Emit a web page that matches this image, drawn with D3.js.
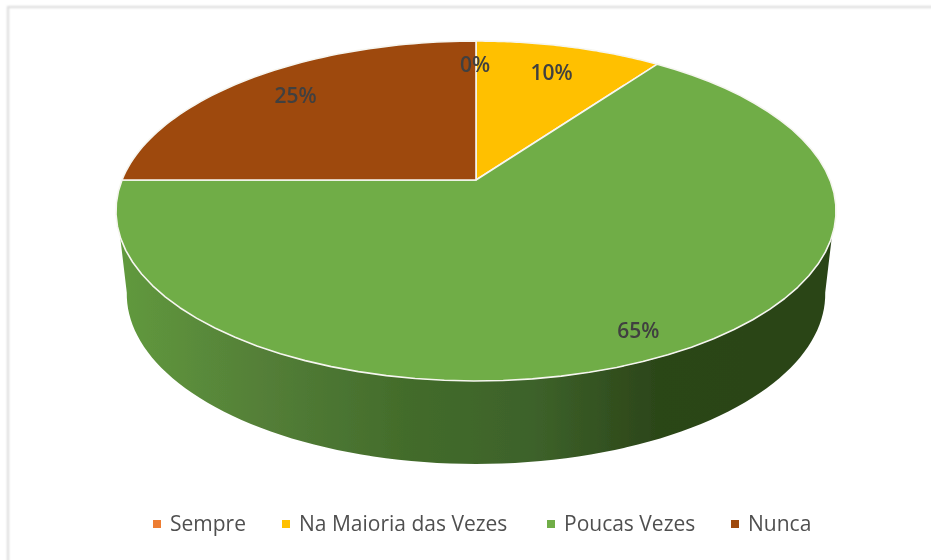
<!DOCTYPE html>
<html><head><meta charset="utf-8">
<script src="https://cdn.jsdelivr.net/npm/d3@7"></script>
<style>html,body{margin:0;padding:0;background:#fff}svg{display:block}</style>
</head><body><svg id="c" width="931" height="560"></svg>
<script>
const categories = ["Sempre","Na Maioria das Vezes","Poucas Vezes","Nunca"];
const values = [0,10,65,25];
const labels = ["0%","10%","65%","25%"];
const colors = ["#ED7D31","#FFC000","#70AD47","#9E480E"];

const svg = d3.select("#c");
const defs = svg.append("defs");
const blur = defs.append("filter").attr("id","soft").attr("filterUnits","userSpaceOnUse")
  .attr("x",0).attr("y",0).attr("width",931).attr("height",560);
blur.append("feGaussianBlur").attr("stdDeviation",0.7);
const shadow = defs.append("filter").attr("id","frame").attr("filterUnits","userSpaceOnUse")
  .attr("x",0).attr("y",0).attr("width",931).attr("height",560);
shadow.append("feGaussianBlur").attr("stdDeviation",1.2);
const grad = defs.append("linearGradient").attr("id","wall").attr("gradientUnits","userSpaceOnUse")
  .attr("x1",117).attr("x2",836).attr("y1",0).attr("y2",0);
[[0,"#619a3d"],[0.2,"#547f38"],[0.4,"#436c2b"],[0.58,"#3d622a"],[0.75,"#2c4619"],[1,"#2a4419"]].forEach(s=>
  grad.append("stop").attr("offset",s[0]).attr("stop-color",s[1]));

svg.append("rect").attr("x",8).attr("y",7).attr("width",960).attr("height",600)
  .attr("fill","none").attr("stroke","#dadada").attr("stroke-width",2).attr("filter","url(#frame)");

// perspective projection of the pie disc
const cx = 476, cy = 180, kx = 354, ky = 164.3, persp = -0.1824;
const proj = (a, r, dy) => {
  const u = r*Math.sin(a), v = -r*Math.cos(a), w = 1 + persp*v;
  return [cx + kx*u/w, cy + ky*v/w + (dy||0)];
};
const arcs = d3.pie().sort(null).value(d=>d)(values);
const line = d3.line();
const sample = (a0,a1,n=60) => d3.range(0,n+1).map(i=>a0+(a1-a0)*i/n);

const root = svg.append("g").attr("filter","url(#soft)");

// wall: lower rim of the disc, shifted down
const depth = 83, lowerScale = 0.97;
const deg = Math.PI/180;
const rimTop = sample(109*deg,251*deg,90).map(a=>proj(a,1));
const rimBot = sample(100*deg,260*deg,90).map(a=>{
  const p = proj(a,1,depth);
  return [cx+(p[0]-cx)*lowerScale,p[1]];
}).reverse();
root.append("path").attr("d",line(rimTop.concat(rimBot))+"Z").attr("fill","url(#wall)");

// top face
root.selectAll("path.slice").data(arcs).join("path").attr("class","slice")
  .attr("d",d=>{
    const pts = sample(d.startAngle,d.endAngle).map(a=>proj(a,1));
    return line([[cx,cy]].concat(pts))+"Z";
  })
  .attr("fill",(d,i)=>colors[i]).attr("stroke","#f6f6f0").attr("stroke-width",1.6).attr("stroke-linejoin","round");

// data labels
const labelFont = "'Open Sans',sans-serif";
const labelRadius = [0.80,0.75,0.90,0.78];
const labelNudge = [[-1,1],[3,-2],[-7,-2],[-3,0]];
const labelAt = (d,i)=>{
  const p = proj((d.startAngle+d.endAngle)/2,labelRadius[i]);
  return [p[0]+labelNudge[i][0],p[1]+labelNudge[i][1]];
};
root.selectAll("text.lab").data(arcs).join("text").attr("class","lab")
  .attr("x",(d,i)=>labelAt(d,i)[0])
  .attr("y",(d,i)=>labelAt(d,i)[1])
  .attr("text-anchor","middle").attr("dominant-baseline","middle")
  .attr("font-family",labelFont).attr("font-size",21).attr("font-weight",600)
  .attr("fill","#404040").text((d,i)=>labels[i]);

// legend
const legendX = d3.scaleOrdinal().domain(categories).range([153,282,547,731]);
const lg = root.selectAll("g.leg").data(categories).join("g").attr("class","leg")
  .attr("transform",d=>`translate(${legendX(d)},525)`);
lg.append("rect").attr("x",0).attr("y",-5).attr("width",8).attr("height",8).attr("fill",(d,i)=>colors[i]);
lg.append("text").attr("x",17).attr("y",0).attr("dominant-baseline","middle")
  .attr("font-family",labelFont).attr("font-size",21).attr("fill","#505050").text(d=>d);
</script></body></html>
